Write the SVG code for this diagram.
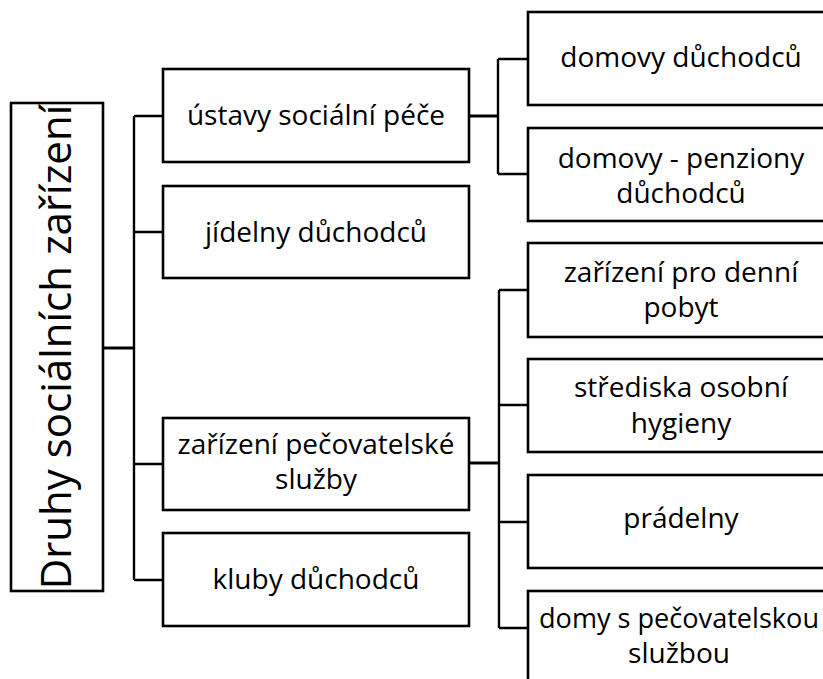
<svg xmlns="http://www.w3.org/2000/svg" width="823" height="679" viewBox="0 0 823 679">
  <style>
    .box { fill: #ffffff; stroke: #000000; stroke-width: 2.6; }
    .lbl { font-family: "Open Sans", "Liberation Sans", sans-serif; font-size: 28px; fill: #000000; text-anchor: middle; }
    .root { font-family: "Open Sans", "Liberation Sans", sans-serif; font-size: 42px; fill: #000000; text-anchor: middle; }
    .conn { fill: none; stroke: #000000; stroke-width: 2.4; }
  </style>
  <rect x="0" y="0" width="823" height="679" fill="#ffffff"/>

  <g id="connectors">
    <path class="conn" d="M103 348 H134" style="stroke-width:3"/>
    <path class="conn" d="M134 116 V580"/>
    <path class="conn" d="M134 116 H163 M134 232 H163 M134 464 H163 M134 580 H163"/>
    <path class="conn" d="M469 116 H498" style="stroke-width:3"/>
    <path class="conn" d="M498 59 V174 M498 59 H528 M498 174 H528"/>
    <path class="conn" d="M469 463 H499" style="stroke-width:3"/>
    <path class="conn" d="M499 290 V628 M499 290 H528 M499 405 H528 M499 522 H528 M499 628 H528"/>
  </g>

  <g id="root">
    <rect class="box" x="11" y="103" width="92" height="488"/>
    <text class="root" transform="translate(71 347) rotate(-90)" x="0" y="0">Druhy sociálních zařízení</text>
  </g>

  <g id="ustavy">
    <rect class="box" x="163" y="69" width="306" height="93"/>
    <text class="lbl" x="316" y="125">ústavy sociální péče</text>
  </g>
  <g id="jidelny">
    <rect class="box" x="163" y="186" width="306" height="92"/>
    <text class="lbl" x="316" y="242">jídelny důchodců</text>
  </g>
  <g id="pecovatelske">
    <rect class="box" x="163" y="418" width="306" height="92"/>
    <text class="lbl" x="316" y="454">zařízení pečovatelské</text>
    <text class="lbl" x="316" y="489">služby</text>
  </g>
  <g id="kluby">
    <rect class="box" x="163" y="533" width="306" height="93"/>
    <text class="lbl" x="316" y="589">kluby důchodců</text>
  </g>

  <g id="domovy">
    <rect class="box" x="528" y="12" width="306" height="93"/>
    <text class="lbl" x="681" y="67">domovy důchodců</text>
  </g>
  <g id="penziony">
    <rect class="box" x="528" y="128" width="306" height="93"/>
    <text class="lbl" x="681" y="168">domovy - penziony</text>
    <text class="lbl" x="681" y="203">důchodců</text>
  </g>
  <g id="denni">
    <rect class="box" x="528" y="243" width="306" height="94"/>
    <text class="lbl" x="681" y="282">zařízení pro denní</text>
    <text class="lbl" x="681" y="317">pobyt</text>
  </g>
  <g id="hygieny">
    <rect class="box" x="528" y="359" width="306" height="93"/>
    <text class="lbl" x="681" y="397">střediska osobní</text>
    <text class="lbl" x="681" y="433">hygieny</text>
  </g>
  <g id="pradelny">
    <rect class="box" x="528" y="475" width="306" height="93"/>
    <text class="lbl" x="681" y="528">prádelny</text>
  </g>
  <g id="domy">
    <rect class="box" x="528" y="591" width="306" height="94"/>
    <text class="lbl" x="679" y="628" textLength="280" lengthAdjust="spacingAndGlyphs">domy s pečovatelskou</text>
    <text class="lbl" x="679" y="663">službou</text>
  </g>
</svg>
